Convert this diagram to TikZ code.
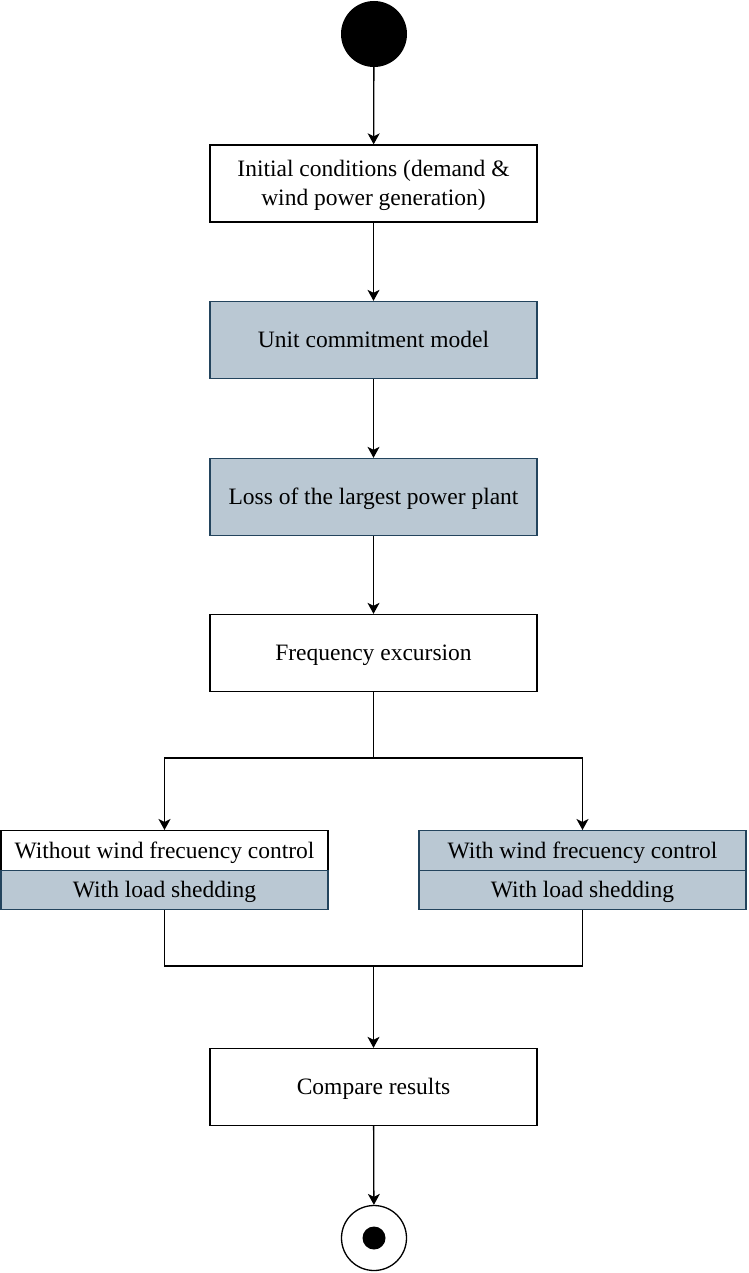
\documentclass[tikz,border=0pt]{standalone}
\usepackage{fontspec}
\setmainfont{Liberation Serif}
\usetikzlibrary{arrows.meta}
\definecolor{bluefill}{HTML}{BAC8D3}
\definecolor{bluedraw}{HTML}{23445D}
\begin{document}
\begin{tikzpicture}[x=1pt,y=-1pt,
  every node/.style={font=\fontsize{23.5}{29}\selectfont},
  wbox/.style={draw=black,fill=white,line width=1.3pt,minimum width=327pt,minimum height=77pt,align=center,inner sep=0pt,text depth=1pt},
  bbox/.style={wbox,draw=bluedraw,fill=bluefill},
  wsplit/.style={draw=black,fill=white,line width=1.3pt,minimum width=327pt,minimum height=39.5pt,inner sep=0pt,text depth=1pt},
  bsplit/.style={wsplit,draw=bluedraw,fill=bluefill},
  conn/.style={line width=1.3pt,draw=black},
  arr/.style={conn,-{Stealth[length=11pt,width=12pt,inset=3pt]}}
]
\useasboundingbox (0,0) rectangle (748,1273);
\node[circle,fill=black,minimum size=66pt,inner sep=0pt] (start) at (374,34) {};
\node[wbox] (init) at (373.5,183.5) {Initial conditions (demand \&\\wind power generation)};
\node[bbox] (uc) at (373.5,340) {Unit commitment model};
\node[bbox] (loss) at (373.5,497) {Loss of the largest power plant};
\node[wbox] (freq) at (373.5,653) {Frequency excursion};
\node[wsplit,anchor=north] (lt) at (164.5,830) {Without wind frecuency control};
\node[bsplit,anchor=north] (lb) at (164.5,869.5) {With load shedding};
\node[bsplit,anchor=north] (rt) at (582.5,830) {With wind frecuency control};
\node[bsplit,anchor=north] (rb) at (582.5,869.5) {With load shedding};
\node[wbox] (cmp) at (373.5,1087) {Compare results};
\node[circle,draw=black,fill=white,line width=1.3pt,minimum size=65pt,inner sep=0pt] (end) at (374,1238) {};
\node[circle,fill=black,minimum size=23pt,inner sep=0pt] (endin) at (374,1238) {};
\coordinate (s1) at (373.5,758);
\coordinate (m1) at (373.5,966);
\draw[arr] (start) -- (init);
\draw[arr] (init) -- (uc);
\draw[arr] (uc) -- (loss);
\draw[arr] (loss) -- (freq);
\draw[conn] (freq) -- (s1);
\draw[arr] (s1) -| (lt.north);
\draw[arr] (s1) -| (rt.north);
\draw[conn] (lb.south) |- (m1);
\draw[conn] (rb.south) |- (m1);
\draw[arr] (m1) -- (cmp);
\draw[arr] (cmp) -- (end);
\end{tikzpicture}
\end{document}
